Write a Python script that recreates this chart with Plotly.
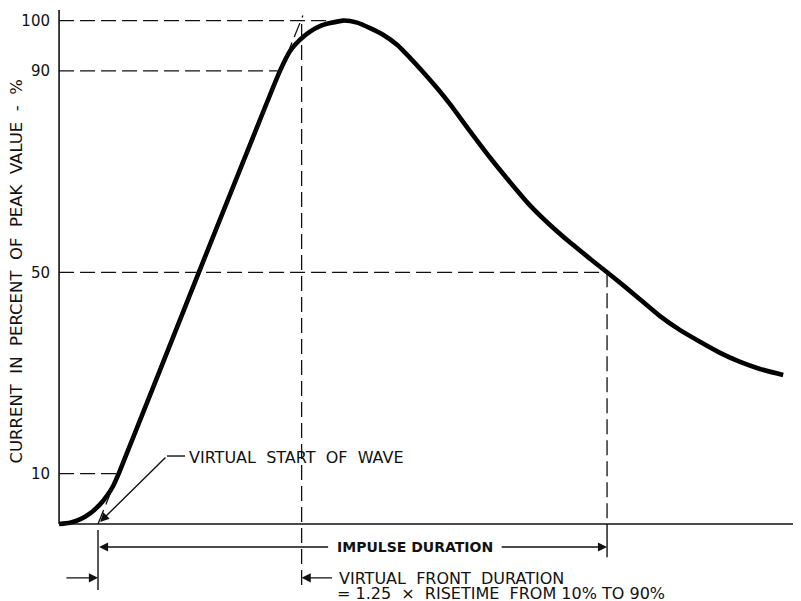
import plotly.graph_objects as go

# impulse current wave, time in microseconds (8/20 wave), value in % of peak
t_us = [-1.53, -1.10, -0.71, -0.31, 0.08, 0.35, 0.59, 0.83, 3.97, 5.97, 7.15,
        7.54, 7.94, 8.33, 8.72, 9.12, 9.63, 10.18, 10.69, 11.20, 11.75, 12.26,
        12.77, 13.32, 13.83, 14.62, 15.40, 16.19, 16.97, 17.76, 18.55, 19.33,
        20.00, 20.71, 21.30, 22.08, 22.87, 23.65, 24.44, 25.23, 26.01, 26.92]
current_pct = [0.0, 0.25, 0.9, 2.1, 3.9, 5.6, 7.5, 10.2, 50.1, 75.3, 90.0,
               93.9, 96.2, 97.8, 98.9, 99.5, 100.0, 99.6, 98.5, 97.2, 95.2, 92.6,
               89.8, 86.6, 83.4, 78.0, 72.8, 67.9, 63.3, 59.4, 55.9, 52.7,
               50.0, 47.1, 44.6, 41.3, 38.5, 36.2, 34.0, 32.2, 30.8, 29.6]

tick_levels = [10, 50, 90, 100]
tick_text = ["10", "50", "90", "100"]

t_origin = -1.53
t_virtual_start = 0.0
t_10 = 0.75
t_90 = 7.15
t_front = 8.0
t_half_tail = 20.0
t_tangent_top, v_tangent_top = 8.05, 101.0

FONT = "DejaVu Sans"
INK = "#111111"
SP = "\u00a0 "  # wide word gap like the hand lettering

fig = go.Figure()

dash = dict(color=INK, width=1.3, dash="15px,6px")
solid = dict(color=INK, width=1.4)

# dashed reference levels
for lvl, t_end in [(100, 9.1), (90, t_90), (50, t_half_tail), (10, t_10)]:
    fig.add_shape(type="line", x0=t_origin, x1=t_end, y0=lvl, y1=lvl, line=dash)

# tangent through 10% and 90% points
fig.add_shape(type="line", x0=t_virtual_start, y0=0, x1=t_tangent_top,
              y1=v_tangent_top, line=dash)

# verticals
fig.add_shape(type="line", x0=t_front, x1=t_front, y0=99.3, y1=-13.1, line=dash)
fig.add_shape(type="line", x0=t_half_tail, x1=t_half_tail, y0=50, y1=0, line=dash)
fig.add_shape(type="line", x0=t_half_tail, x1=t_half_tail, y0=0, y1=-6.6, line=solid)
fig.add_shape(type="line", x0=t_virtual_start, x1=t_virtual_start, y0=-1.2,
              y1=-13.1, line=solid)

# axes
fig.add_shape(type="line", x0=t_origin, x1=27.7, y0=0, y1=0,
              line=dict(color=INK, width=1.6))
fig.add_shape(type="line", x0=t_origin, x1=t_origin, y0=0, y1=102.1,
              line=dict(color=INK, width=1.6))

# the wave
fig.add_trace(go.Scatter(
    x=t_us, y=current_pct, mode="lines",
    line=dict(color="black", width=4.6, shape="spline", smoothing=0.6),
    hoverinfo="skip", showlegend=False,
))


def arrow(x_head, y_head, x_tail, y_tail):
    fig.add_annotation(x=x_head, y=y_head, ax=x_tail, ay=y_tail,
                       xref="x", yref="y", axref="x", ayref="y",
                       text="", showarrow=True, arrowhead=2, arrowsize=1.3,
                       arrowwidth=1.4, arrowcolor=INK)


def label(x, y, text, anchor="left", size=16, bold=False):
    fig.add_annotation(x=x, y=y, xref="x", yref="y", text=text,
                       showarrow=False, xanchor=anchor, yanchor="middle",
                       font=dict(family=FONT, size=size, color=INK,
                                 weight="bold" if bold else "normal"))


# virtual start leader
fig.add_shape(type="line", x0=2.71, x1=3.42, y0=13.5, y1=13.5, line=solid)
arrow(0.08, 0.4, 2.71, 13.5)
label(3.5, 13.2, SP.join(["VIRTUAL", "START", "OF", "WAVE"]))

# impulse duration
v_imp = -4.57
arrow(t_virtual_start + 0.04, v_imp, 9.1, v_imp)
arrow(t_half_tail, v_imp, 15.8, v_imp)
label(12.45, v_imp, "IMPULSE DURATION", anchor="center", size=14, bold=True)

# virtual front duration
v_vf = -10.7
arrow(t_virtual_start, v_vf, -1.30, v_vf)
arrow(t_front, v_vf, 9.25, v_vf)
label(9.39, v_vf - 0.1, SP.join(["VIRTUAL", "FRONT", "DURATION"]))
label(9.31, -13.9, "= 1.25" + SP + "×" + SP + "RISETIME" + SP + "FROM 10% TO 90%")

# y title
fig.add_annotation(x=-0.0531, y=0.5565, xref="paper", yref="paper",
                   xanchor="center", yanchor="middle",
                   text=SP.join(["CURRENT", "IN", "PERCENT", "OF", "PEAK",
                                 "VALUE", "-", "%"]),
                   textangle=-90, showarrow=False,
                   font=dict(family=FONT, size=16.5, color=INK))

# the page body keeps an 8px margin, so the figure fills the rest of the window
fig.update_layout(
    width=793, height=593,
    margin=dict(l=49, r=0, t=0, b=0),
    paper_bgcolor="white", plot_bgcolor="white",
    xaxis=dict(range=[-1.611, 27.62], visible=False, showgrid=False),
    yaxis=dict(range=[-15.3, 102.5], showgrid=False, zeroline=False,
               showline=False, tickvals=tick_levels, ticktext=tick_text,
               ticks="", ticklabelstandoff=6,
               tickfont=dict(family=FONT, size=15, color=INK)),
)

fig.write_html("out.html")
